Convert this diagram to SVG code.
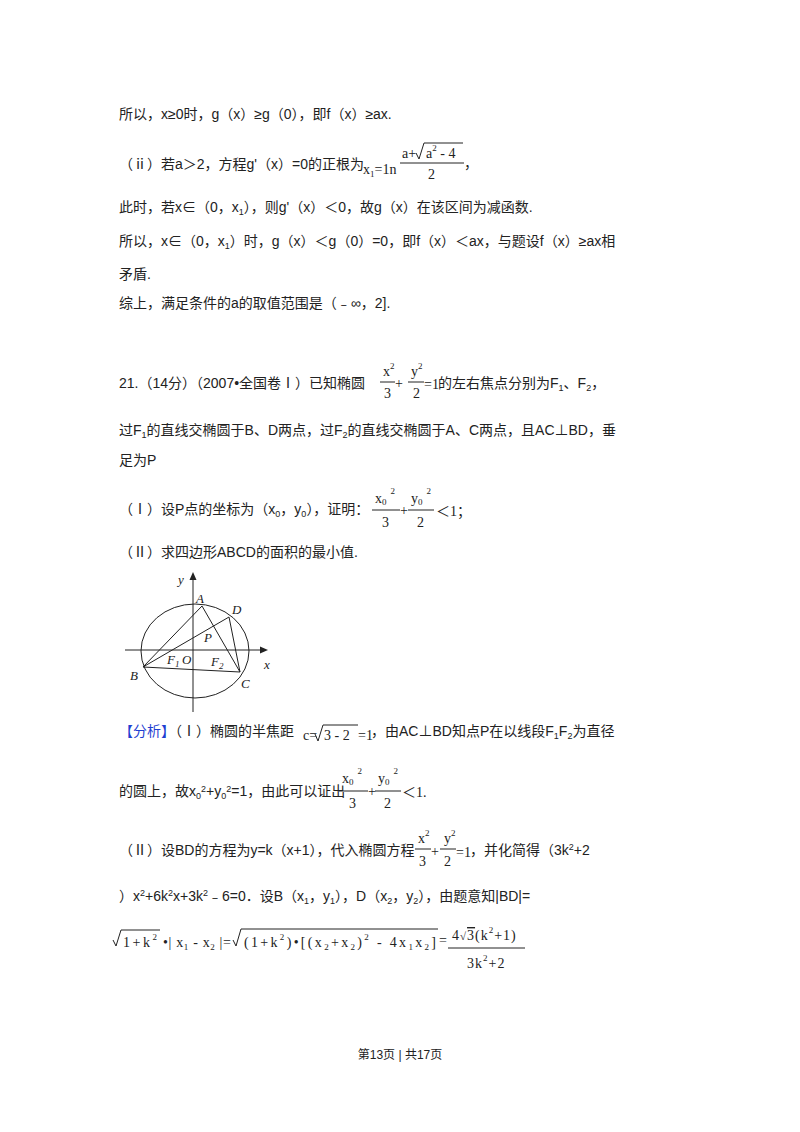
<svg xmlns="http://www.w3.org/2000/svg" width="800" height="1132" viewBox="0 0 800 1132">
<style>
.t{font-family:"Liberation Sans","Noto Sans CJK SC",sans-serif;font-size:14px;fill:#222}
.m{font-family:"Liberation Serif","Noto Sans CJK SC",serif;font-size:14px;fill:#222}
.i{font-family:"Liberation Serif",serif;font-size:13px;font-style:italic;fill:#222}
.ln{stroke:#222;stroke-width:1;fill:none}
.sb{font-size:9px}
</style>
<rect width="800" height="1132" fill="#fff"/>
<g id="text">
<text class="t" x="119" y="119">所以，x≥0时，g（x）≥g（0），即f（x）≥ax.</text>
<text class="t" x="119" y="169">（ⅱ）若a＞2，方程g'（x）=0的正根为</text>
<text class="m" x="363" y="174">x<tspan class="sb" dy="3">1</tspan><tspan dy="-3">=1n</tspan></text>
<text class="m" x="402" y="158">a+</text>
<path class="ln" d="M416 153 L419 159 L424 143 L463 143"/>
<text class="m" x="426" y="158">a<tspan class="sb" dy="-7">2</tspan><tspan dy="7"> - 4</tspan></text>
<line class="ln" x1="400" y1="163" x2="464" y2="163"/>
<text class="m" x="428" y="179">2</text>
<text class="t" x="464" y="168">，</text>
<text class="t" x="119" y="212">此时，若x∈（0，x<tspan class="sb" dy="3">1</tspan><tspan dy="-3">），则g'（x）＜0，故g（x）在该区间为减函数.</tspan></text>
<text class="t" x="119" y="246">所以，x∈（0，x<tspan class="sb" dy="3">1</tspan><tspan dy="-3">）时，g（x）＜g（0）=0，即f（x）＜ax，与题设f（x）≥ax相</tspan></text>
<text class="t" x="119" y="279">矛盾.</text>
<text class="t" x="119" y="308">综上，满足条件的a的取值范围是（﹣∞，2].</text>

<text class="t" x="119" y="388">21.（14分）（2007•全国卷Ⅰ）已知椭圆</text>
<text class="m" x="383" y="376">x<tspan class="sb" dy="-7">2</tspan></text>
<line class="ln" x1="380" y1="382" x2="395" y2="382"/>
<text class="m" x="384" y="398">3</text>
<text class="m" x="395" y="388">+</text>
<text class="m" x="411" y="376">y<tspan class="sb" dy="-7">2</tspan></text>
<line class="ln" x1="408" y1="382" x2="424" y2="382"/>
<text class="m" x="413" y="398">2</text>
<text class="m" x="424" y="389">=1</text>
<text class="t" x="438" y="388">的左右焦点分别为F<tspan class="sb" dy="3">1</tspan><tspan dy="-3">、F</tspan><tspan class="sb" dy="3">2</tspan><tspan dy="-3">，</tspan></text>
<text class="t" x="119" y="435">过F<tspan class="sb" dy="3">1</tspan><tspan dy="-3">的直线交椭圆于B、D两点，过F</tspan><tspan class="sb" dy="3">2</tspan><tspan dy="-3">的直线交椭圆于A、C两点，且AC⊥BD，垂</tspan></text>
<text class="t" x="119" y="465">足为P</text>
<text class="t" x="119" y="514">（Ⅰ）设P点的坐标为（x<tspan class="sb" dy="3">0</tspan><tspan dy="-3">，y</tspan><tspan class="sb" dy="3">0</tspan><tspan dy="-3">），证明：</tspan></text>
<text class="m" x="375" y="503">x<tspan class="sb" dy="2">0</tspan><tspan class="sb" dx="4" dy="-11">2</tspan></text>
<line class="ln" x1="372" y1="510" x2="400" y2="510"/>
<text class="m" x="382" y="527">3</text>
<text class="m" x="400" y="515">+</text>
<text class="m" x="411" y="503">y<tspan class="sb" dy="2">0</tspan><tspan class="sb" dx="4" dy="-11">2</tspan></text>
<line class="ln" x1="408" y1="510" x2="434" y2="510"/>
<text class="m" x="417" y="527">2</text>
<text class="m" x="436" y="516">＜1；</text>
<text class="t" x="119" y="557">（Ⅱ）求四边形ABCD的面积的最小值.</text>
</g>

<g id="figure">
<ellipse class="ln" cx="195" cy="651" rx="54" ry="47"/>
<line class="ln" x1="125" y1="650" x2="263" y2="650"/>
<path d="M268 650 L260 646.5 L260 653.5 Z" fill="#222"/>
<line class="ln" x1="193" y1="712" x2="193" y2="578"/>
<path d="M193 572 L189.5 580 L196.5 580 Z" fill="#222"/>
<path class="ln" d="M143 667 L202 606 L240 672 Z M143 667 L229 617 L240 672"/>
<text class="i" x="178" y="584">y</text>
<text class="i" x="196" y="603">A</text>
<text class="i" x="232" y="614">D</text>
<text class="i" x="204" y="642">P</text>
<text class="i" x="167" y="664">F<tspan font-size="9" dy="3">1</tspan></text>
<text class="i" x="182" y="664">O</text>
<text class="i" x="211" y="666">F<tspan font-size="9" dy="3">2</tspan></text>
<text class="i" x="264" y="669">x</text>
<text class="i" x="130" y="680">B</text>
<text class="i" x="241" y="688">C</text>
</g>

<g id="analysis">
<text class="t" x="119" y="736"><tspan fill="#1f3fd1">【分析】</tspan>（Ⅰ）椭圆的半焦距</text>
<text class="m" x="303" y="740">c=</text>
<path class="ln" d="M315 734 L318 741 L323 725 L358 725"/>
<text class="m" x="324" y="740">3 - 2</text>
<text class="m" x="358" y="740">=1</text>
<text class="t" x="371" y="736">，由AC⊥BD知点P在以线段F<tspan class="sb" dy="3">1</tspan><tspan dy="-3">F</tspan><tspan class="sb" dy="3">2</tspan><tspan dy="-3">为直径</tspan></text>

<text class="t" x="119" y="796">的圆上，故x<tspan class="sb" dy="3">0</tspan><tspan class="sb" dy="-7">2</tspan><tspan dy="4">+y</tspan><tspan class="sb" dy="3">0</tspan><tspan class="sb" dy="-7">2</tspan><tspan dy="4">=1，由此可以证出</tspan></text>
<text class="m" x="342" y="783">x<tspan class="sb" dy="2">0</tspan><tspan class="sb" dx="4" dy="-11">2</tspan></text>
<line class="ln" x1="339" y1="791" x2="368" y2="791"/>
<text class="m" x="349" y="808">3</text>
<text class="m" x="368" y="796">+</text>
<text class="m" x="378" y="783">y<tspan class="sb" dy="2">0</tspan><tspan class="sb" dx="4" dy="-11">2</tspan></text>
<line class="ln" x1="375" y1="791" x2="401" y2="791"/>
<text class="m" x="384" y="808">2</text>
<text class="m" x="402" y="797">＜1.</text>

<text class="t" x="119" y="855">（Ⅱ）设BD的方程为y=k（x+1），代入椭圆方程</text>
<text class="m" x="418" y="843">x<tspan class="sb" dy="-7">2</tspan></text>
<line class="ln" x1="415" y1="849" x2="431" y2="849"/>
<text class="m" x="419" y="866">3</text>
<text class="m" x="431" y="856">+</text>
<text class="m" x="444" y="843">y<tspan class="sb" dy="-7">2</tspan></text>
<line class="ln" x1="440" y1="849" x2="456" y2="849"/>
<text class="m" x="444" y="866">2</text>
<text class="m" x="456" y="857">=1</text>
<text class="t" x="470" y="855">，并化简得（3k<tspan class="sb" dy="-5">2</tspan><tspan dy="5">+2</tspan></text>

<text class="t" x="119" y="901">）x<tspan class="sb" dy="-5">2</tspan><tspan dy="5">+6k</tspan><tspan class="sb" dy="-5">2</tspan><tspan dy="5">x+3k</tspan><tspan class="sb" dy="-5">2</tspan><tspan dy="5">﹣6=0．设B（x</tspan><tspan class="sb" dy="3">1</tspan><tspan dy="-3">，y</tspan><tspan class="sb" dy="3">1</tspan><tspan dy="-3">），D（x</tspan><tspan class="sb" dy="3">2</tspan><tspan dy="-3">，y</tspan><tspan class="sb" dy="3">2</tspan><tspan dy="-3">），由题意知|BD|=</tspan></text>

<path class="ln" d="M113 940 L116 946 L121 930 L160 930"/>
<text class="m" x="123" y="947" textLength="34" lengthAdjust="spacing">1+k<tspan class="sb" dy="-7">2</tspan></text>
<text class="m" x="163" y="947" textLength="68" lengthAdjust="spacing">•| x<tspan class="sb" dy="3">1</tspan><tspan dy="-3"> - x</tspan><tspan class="sb" dy="3">2</tspan><tspan dy="-3"> |=</tspan></text>
<path class="ln" d="M233 940 L236 946 L241 929 L438 929"/>
<text class="m" x="244" y="947" textLength="192" lengthAdjust="spacing">(1+k<tspan class="sb" dy="-7">2</tspan><tspan dy="7">)•[(x</tspan><tspan class="sb" dy="3">2</tspan><tspan dy="-3">+x</tspan><tspan class="sb" dy="3">2</tspan><tspan dy="-3">)</tspan><tspan class="sb" dy="-7">2</tspan><tspan dy="7"> - 4x</tspan><tspan class="sb" dy="3">1</tspan><tspan dy="-3">x</tspan><tspan class="sb" dy="3">2</tspan><tspan dy="-3">]</tspan></text>
<text class="m" x="439" y="945">=</text>
<text class="m" x="452" y="940" style="letter-spacing:1px">4<tspan font-size="11">√</tspan><tspan text-decoration="overline">3</tspan>(k<tspan class="sb" dy="-7">2</tspan><tspan dy="7">+1)</tspan></text>
<line class="ln" x1="448" y1="948" x2="525" y2="948"/>
<text class="m" x="467" y="968" style="letter-spacing:1px">3k<tspan class="sb" dy="-7">2</tspan><tspan dy="7">+2</tspan></text>
</g>

<text x="400" y="1059" text-anchor="middle" style="font-family:'Liberation Sans','Noto Sans CJK SC',sans-serif;font-size:12px;fill:#222">第13页 | 共17页</text>
</svg>
